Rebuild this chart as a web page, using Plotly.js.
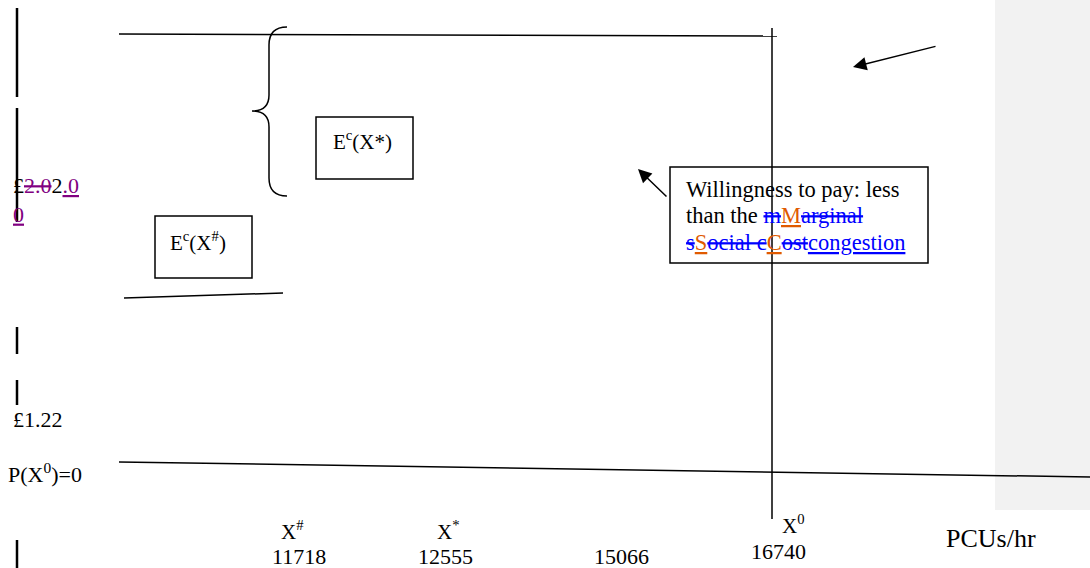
<!DOCTYPE html>
<html>
<head>
<meta charset="utf-8">
<script src="https://cdn.plot.ly/plotly-3.0.1.min.js"></script>
<style>html,body{margin:0;padding:0;background:#fff;}#chart{width:1090px;height:568px;}</style>
</head>
<body>
<div id="chart"></div>
<script>
// ---- chart content (labels / values) ----
const priceLabels = [
  '£<span style="color:#800080"><s>2.0</s></span>2<span style="color:#800080"><u>.0</u><br><u>0</u></span>',
  '£1.22',
  'P(X<sup>0</sup>)=0'
];
const flowSymbols = ['X<sup>#</sup>', 'X<sup>*</sup>', '', 'X<sup>0</sup>'];
const flowValues = ['11718', '12555', '15066', '16740'];
const axisUnit = 'PCUs/hr';
const boxLabels = ['E<sup>c</sup>(X*)', 'E<sup>c</sup>(X<sup>#</sup>)'];
const noteLines = [
  'Willingness to pay: less',
  'than the <span style="color:#0000ff"><s>m</s></span><span style="color:#e05a00"><u>M</u></span><span style="color:#0000ff"><s>arginal</s></span>',
  '<span style="color:#0000ff"><s>s</s></span><span style="color:#e05a00"><u>S</u></span><span style="color:#0000ff"><s>ocial c</s></span><span style="color:#e05a00"><u>C</u></span><span style="color:#0000ff"><s>ost</s><u>congestion</u></span>'
];

// ---- layout geometry (diagram coordinates) ----
const priceX = [11, 11, 6];
const priceY = [171, 419, 473];
const flowX = [279, 435, 592, 780];
const flowSymY = [530, 530, 530, 524];
const flowValX = [270, 416, 592, 749];
const flowValY = [556, 556, 556, 551];
const noteX = 684;
const noteY = [189, 215, 242];

const lines = [
  {x0: 17, y0: 8, x1: 17, y1: 97},
  {x0: 17, y0: 108, x1: 17, y1: 222},
  {x0: 17, y0: 327, x1: 17, y1: 354},
  {x0: 17, y0: 380, x1: 17, y1: 405},
  {x0: 17, y0: 540, x1: 17, y1: 568},
  {x0: 119, y0: 34, x1: 777, y1: 36},
  {x0: 772, y0: 28, x1: 772, y1: 519},
  {x0: 119, y0: 462, x1: 1090, y1: 477},
  {x0: 124, y0: 298, x1: 283, y1: 293}
];
const boxes = [
  {x0: 316, y0: 117, x1: 413, y1: 179},
  {x0: 155, y0: 216, x1: 252, y1: 278},
  {x0: 670, y0: 167, x1: 928, y1: 263}
];
const arrows = [
  {hx: 638, hy: 169, tx: 668, ty: 198},
  {hx: 853, hy: 67, tx: 937, ty: 46}
];

const FONT = 'Liberation Serif, Times New Roman, serif';
const shapes = [];
shapes.push({type: 'rect', xref: 'x', yref: 'y', x0: 995, x1: 1090, y0: 0, y1: 510,
  fillcolor: '#f2f2f2', line: {width: 0}, layer: 'below'});
lines.forEach((l, i) => shapes.push({type: 'line', xref: 'x', yref: 'y', x0: l.x0, y0: l.y0, x1: l.x1, y1: l.y1,
  line: {color: '#000', width: i < 5 ? 2.5 : 1.5}}));
boxes.forEach(b => shapes.push({type: 'rect', xref: 'x', yref: 'y', x0: b.x0, y0: b.y0, x1: b.x1, y1: b.y1,
  fillcolor: 'rgba(255,255,255,0)', line: {color: '#000', width: 1.5}}));
// brace
shapes.push({type: 'path', xref: 'x', yref: 'y',
  path: 'M 287 27 Q 269 27 269 45 L 269 95 Q 269 111 252 111 Q 269 111 269 127 L 269 178 Q 269 196 287 196',
  line: {color: '#000', width: 1.5}});

const ann = [];
const txt = (x, y, t, size, ya) => ann.push({x: x, y: y, text: t, showarrow: false,
  xanchor: 'left', yanchor: ya || 'middle', align: 'left', font: {family: FONT, size: size, color: '#000'}});
priceLabels.forEach((t, i) => txt(priceX[i], priceY[i], t, 22, i === 0 ? 'top' : 'middle'));
flowSymbols.forEach((t, i) => { if (t) txt(flowX[i], flowSymY[i], t, 21); });
flowValues.forEach((t, i) => txt(flowValX[i], flowValY[i], t, 22));
txt(944, 538, axisUnit, 26);
txt(331, 140, boxLabels[0], 21);
txt(168, 241, boxLabels[1], 21);
noteLines.forEach((t, i) => txt(noteX, noteY[i], t, 22.5));
arrows.forEach(a => ann.push({x: a.hx, y: a.hy, ax: a.tx, ay: a.ty, xref: 'x', yref: 'y', axref: 'x', ayref: 'y',
  text: '', showarrow: true, arrowhead: 2, arrowsize: 1.8, arrowwidth: 1.5, arrowcolor: '#000'}));

Plotly.newPlot('chart', [{x: [0], y: [0], mode: 'markers', marker: {opacity: 0}, hoverinfo: 'skip', showlegend: false}], {
  width: 1090, height: 568,
  margin: {l: 0, r: 0, t: 0, b: 0},
  paper_bgcolor: '#fff', plot_bgcolor: '#fff',
  xaxis: {range: [0, 1090], visible: false, fixedrange: true},
  yaxis: {range: [568, 0], visible: false, fixedrange: true},
  shapes: shapes,
  annotations: ann,
  showlegend: false
}, {displayModeBar: false, staticPlot: true});
</script>
</body>
</html>
